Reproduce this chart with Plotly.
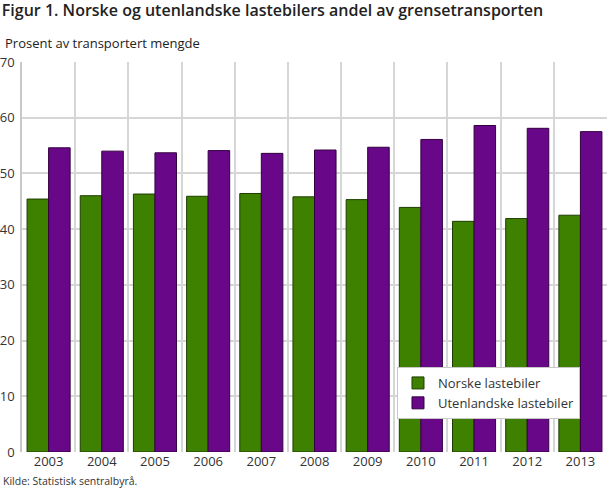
import plotly.graph_objects as go

years = ['2003', '2004', '2005', '2006', '2007', '2008', '2009', '2010', '2011', '2012', '2013']
norske = [45.4, 46.0, 46.3, 45.9, 46.4, 45.8, 45.3, 43.9, 41.4, 41.9, 42.5]
utenlandske = [54.6, 54.0, 53.7, 54.1, 53.6, 54.2, 54.7, 56.1, 58.6, 58.1, 57.5]

green = '#3e8000'
purple = '#690789'
fontName = 'Open Sans'

fig = go.Figure()
fig.add_trace(go.Bar(x=years, y=norske, name='Norske lastebiler',
                     marker=dict(color=green, line=dict(color='#1f3d00', width=1))))
fig.add_trace(go.Bar(x=years, y=utenlandske, name='Utenlandske lastebiler',
                     marker=dict(color=purple, line=dict(color='#33003f', width=1))))

fig.update_layout(
    width=610, height=488,
    barmode='group', bargap=0.19, bargroupgap=0,
    plot_bgcolor='white', paper_bgcolor='white',
    margin=dict(l=22, r=3, t=62, b=36, autoexpand=False),
    font=dict(family=fontName, size=13, color='#333333'),
    title=dict(text='Figur 1. Norske og utenlandske lastebilers andel av grensetransporten',
               x=0.003, xanchor='left', y=0.99, yanchor='top',
               font=dict(family=fontName, size=16, color='#222222', weight=600)),
    legend=dict(x=0.641, y=0.218, xanchor='left', yanchor='top',
                bgcolor='white', bordercolor='#c8c8c8', borderwidth=1,
                font=dict(size=13, color='#333333'), tracegroupgap=6),
)
fig.update_xaxes(type='category', tickson='boundaries', showgrid=True,
                 gridcolor='#d6d6d6', gridwidth=1.5, ticks='', showline=False,
                 tickfont=dict(size=13), automargin=False)
fig.update_yaxes(range=[0, 70], dtick=10, showgrid=True, gridcolor='#d6d6d6',
                 gridwidth=1.5, showline=True, linecolor='#c8c8c8', linewidth=1.5,
                 ticks='', zeroline=False, ticklabelstandoff=3,
                 tickfont=dict(size=13), automargin=False)

fig.add_annotation(text='Prosent av transportert mengde', xref='paper', yref='paper',
                   x=-0.033, y=1.02, xanchor='left', yanchor='bottom', showarrow=False,
                   font=dict(size=13, color='#222222'))
fig.add_annotation(text='Kilde: Statistisk sentralbyrå.', xref='paper', yref='paper',
                   x=-0.036, y=-0.05, xanchor='left', yanchor='top', showarrow=False,
                   font=dict(size=10.5, color='#333333'))

# the page has a default 8px body margin, drop it so the figure sits at 0,0
fig.write_html('out.html', config={'displayModeBar': False},
               post_script="document.body.style.margin='0';")
